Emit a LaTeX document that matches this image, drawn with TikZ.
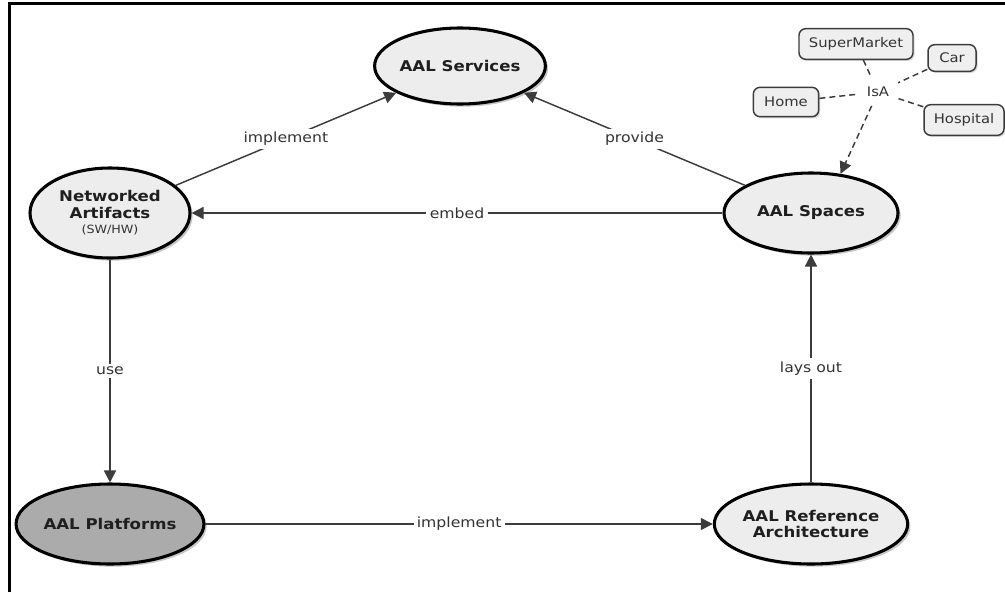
\documentclass[tikz,border=0pt]{standalone}
\usepackage{fontspec}
\setsansfont{DejaVu Sans}[FakeStretch=1.12]
\renewcommand{\familydefault}{\sfdefault}
\usetikzlibrary{shapes.geometric,arrows.meta,shadows}
\definecolor{ovalfill}{HTML}{EDEDED}
\definecolor{platfill}{HTML}{ABABAB}
\definecolor{linegray}{HTML}{3C3C3C}
\definecolor{textgray}{HTML}{333333}
\definecolor{boxfill}{HTML}{EFEFEF}

\begin{document}
\begin{tikzpicture}[x=0.75pt,y=-0.75pt,
  concept/.style={ellipse,draw=black,line width=2.3pt,fill=ovalfill,inner sep=0pt,align=center,
    font=\fontsize{11.1}{12.5}\selectfont\bfseries,text=black!88,
    drop shadow={shadow xshift=2pt,shadow yshift=-2pt,fill=black,opacity=0.22}},
  place/.style={rectangle,rounded corners=5pt,draw=linegray,line width=1.1pt,fill=boxfill,inner sep=0pt,
    font=\fontsize{9.9}{12}\selectfont,text=textgray,
    drop shadow={shadow xshift=1.2pt,shadow yshift=-1.2pt,fill=black,opacity=0.15}},
  link/.style={draw=linegray,line width=1.1pt,-{Triangle[length=9pt,width=9pt]}},
  lbl/.style={fill=white,inner sep=2.5pt,font=\fontsize{10.5}{12}\selectfont,text=textgray},
  isaline/.style={draw=linegray,line width=1.1pt,dash pattern=on 4.5pt off 3pt}]

\useasboundingbox (0,0) rectangle (1005,592);

% frame
\draw[line width=2.25pt] (9,592) -- (9,4) -- (1005,4);

% concepts
\node[concept,minimum width=124.5pt,minimum height=57pt] (srv) at (460,66) {AAL Services};
\node[concept,minimum width=120pt,minimum height=67.5pt] (na) at (110,213)
  {Networked\\Artifacts\\[-1pt]{\mdseries\fontsize{8.5}{10}\selectfont\color{textgray}(SW/HW)}};
\node[concept,minimum width=130.5pt,minimum height=60pt] (sp) at (811,213) {AAL Spaces};
\node[concept,fill=platfill,minimum width=133pt,minimum height=60pt] (pl) at (110,524) {AAL Platforms};
\node[concept,minimum width=136pt,minimum height=60pt] (ra) at (811,524) {AAL Reference\\Architecture};

% kinds of space
\node[place,minimum width=85.5pt,minimum height=23pt] (sm) at (856,44) {SuperMarket};
\node[place,minimum width=36pt,minimum height=20pt] (car) at (952,58) {Car};
\node[place,minimum width=49pt,minimum height=22pt] (home) at (786,102) {Home};
\node[place,minimum width=60pt,minimum height=23pt] (hosp) at (964,120) {Hospital};
\node[font=\fontsize{9.9}{12}\selectfont,text=textgray,inner sep=6.5pt] (isa) at (878,92) {IsA};

\draw[isaline] (sm) -- (isa);
\draw[isaline] (car) -- (isa);
\draw[isaline] (home) -- (isa);
\draw[isaline] (hosp) -- (isa);
\draw[isaline,-{Triangle[length=9pt,width=9pt]}] (isa) -- (sp.53);

% relations
\draw[link] (na) -- node[lbl]{implement} (srv);
\draw[link] (sp) -- node[lbl]{provide} (srv);
\draw[link] (sp) -- node[lbl]{embed} (na);
\draw[link] (na) -- node[lbl]{use} (pl);
\draw[link] (pl) -- node[lbl]{implement} (ra);
\draw[link] (ra) -- node[lbl]{lays out} (sp);
\end{tikzpicture}
\end{document}
